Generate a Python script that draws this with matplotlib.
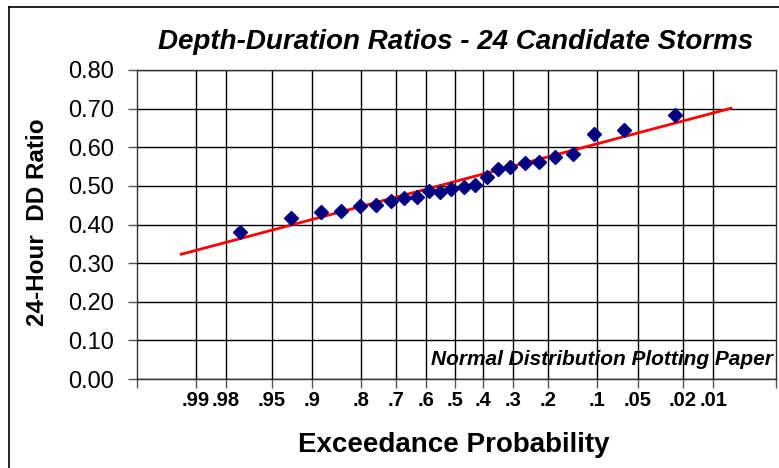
import numpy as np
import matplotlib
matplotlib.use("Agg")
import matplotlib.pyplot as plt
from matplotlib.lines import Line2D
from statistics import NormalDist

# exceedance probability of each storm and its 24-hour DD ratio
exceed_prob = [0.973, 0.929, 0.885, 0.846, 0.802, 0.760, 0.717, 0.674,
               0.632, 0.592, 0.552, 0.512, 0.467, 0.428, 0.387, 0.349,
               0.309, 0.263, 0.225, 0.184, 0.143, 0.105, 0.064, 0.024]
dd_ratio = [0.381, 0.418, 0.433, 0.436, 0.448, 0.450, 0.462, 0.469,
            0.472, 0.487, 0.485, 0.492, 0.496, 0.502, 0.524, 0.544,
            0.550, 0.558, 0.561, 0.576, 0.583, 0.635, 0.644, 0.684]

# fitted normal line (end points)
fit_prob = [0.993, 0.0065]
fit_ratio = [0.323, 0.701]

prob_ticks = [0.99, 0.98, 0.95, 0.9, 0.8, 0.7, 0.6, 0.5, 0.4, 0.3, 0.2,
              0.1, 0.05, 0.02, 0.01]
prob_labels = [".99", ".98", ".95", ".9", ".8", ".7", ".6", ".5", ".4",
               ".3", ".2", ".1", ".05", ".02", ".01"]
y_ticks = np.arange(0, 0.81, 0.1)

nd = NormalDist()
_ppf = np.vectorize(lambda p: nd.inv_cdf(min(max(p, 1e-9), 1 - 1e-9)))
_cdf = np.vectorize(nd.cdf)

plt.rcParams['font.family'] = ['Liberation Sans', 'DejaVu Sans']

fig = plt.figure(figsize=(7.79, 4.68), dpi=100)
ax = fig.add_axes([137 / 779, 1 - 379 / 468, 638.7 / 779, 309 / 468])

ax.set_xscale('function', functions=(_ppf, _cdf))
ax.set_xlim(0.99785, 0.00195)
ax.set_ylim(0, 0.8)

ax.set_xticks(prob_ticks)
ax.set_xticklabels(prob_labels, fontsize=14.5, fontweight='bold')
ax.set_xticks([0.99785, 0.00195], minor=True)
ax.set_yticks(y_ticks)
ax.set_yticklabels(["%.2f" % v for v in y_ticks], fontsize=17)

ax.grid(True, which='major', color='black', lw=1)
ax.set_axisbelow(True)
ax.tick_params(axis='both', which='both', direction='out', length=6.5,
               width=1, color='#555555')
ax.tick_params(axis='x', pad=2.5)
ax.tick_params(axis='y', pad=10)
for s in ax.spines.values():
    s.set_color('#333333')
    s.set_linewidth(1)

ax.plot(fit_prob, fit_ratio, color='#ff0000', lw=2, zorder=3)
ax.plot(exceed_prob, dd_ratio, linestyle='none', marker='D', ms=7.5,
        color='#000080', zorder=4)

ax.text(0.996, 0.0615, "Normal Distribution Plotting Paper", transform=ax.transAxes,
        ha='right', va='center', fontsize=15, fontweight='bold', style='italic')

fig.text(456 / 779, 1 - 49 / 468, "Depth-Duration Ratios - 24 Candidate Storms",
         ha='center', va='baseline', fontsize=20, fontweight='bold', style='italic')
fig.text(454 / 779, 1 - 452 / 468, "Exceedance Probability",
         ha='center', va='baseline', fontsize=20, fontweight='bold')
fig.text(38 / 779, 1 - 222 / 468, "24-Hour  DD Ratio", rotation=90,
         ha='center', va='center', fontsize=17.5, fontweight='bold')

# chart area border (only left and top edges fall inside the picture)
fig.add_artist(Line2D([8.5 / 779, 8.5 / 779], [0, 1 - 7 / 468], color='black', lw=1.2))
fig.add_artist(Line2D([8.5 / 779, 1], [1 - 7 / 468, 1 - 7 / 468], color='black', lw=1.2))

fig.savefig("out.png", dpi=100)
